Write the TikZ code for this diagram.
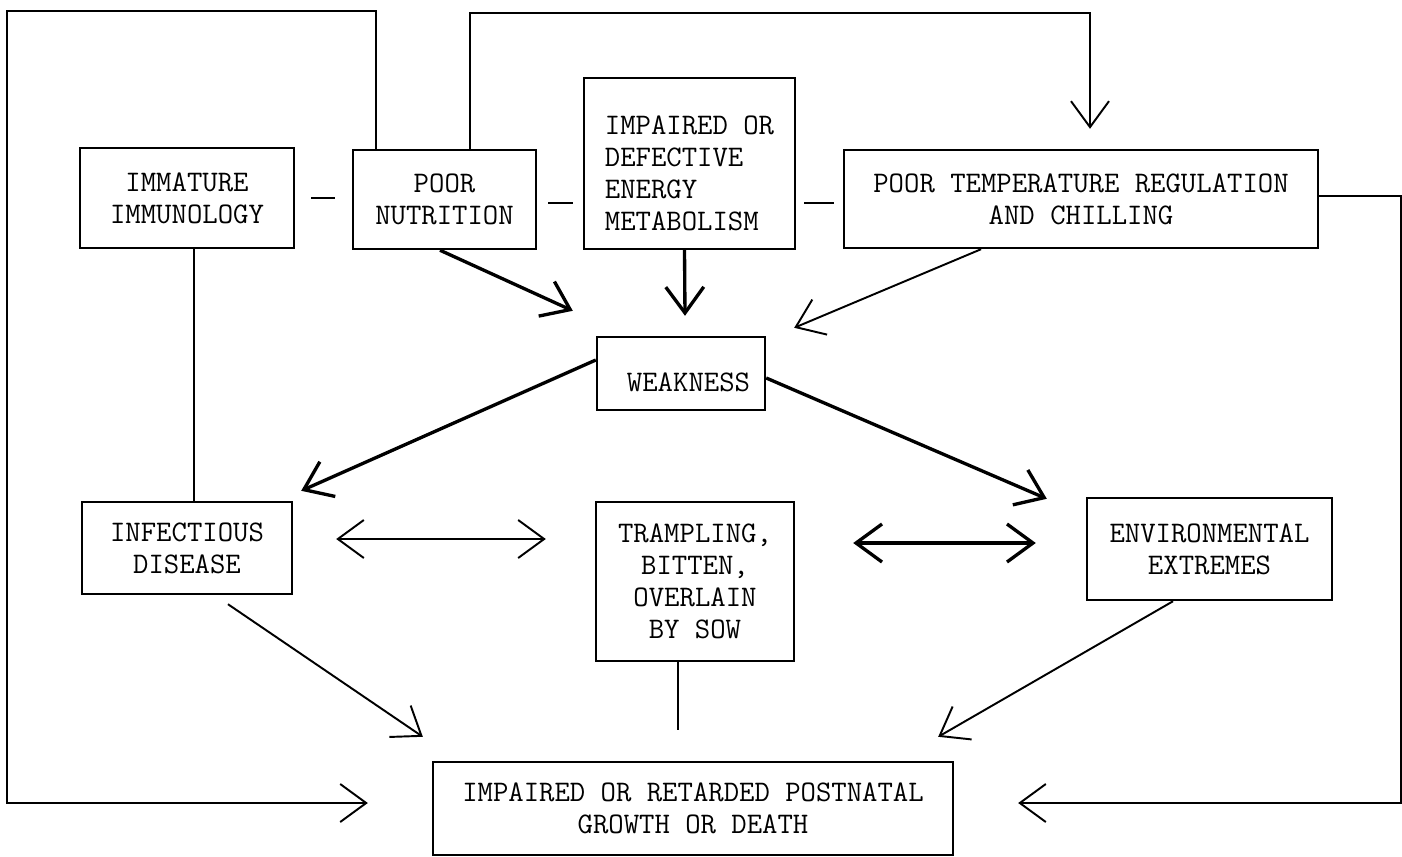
\documentclass[tikz,border=0pt]{standalone}
\usetikzlibrary{arrows.meta}
\newcommand\boxfont{\fontsize{17}{18.2}\selectfont\ttfamily}
\tikzset{
	box/.style={draw,line width=1.4pt,inner sep=0pt,font=\boxfont,align=center},
	plain/.style={line width=1.1pt},
	arr/.style={line width=1.1pt,->},
	arrthick/.style={line width=1.9pt,->},
	dbl/.style={line width=1.1pt,<->},
	dblthick/.style={line width=1.9pt,<->},
	>={Straight Barb[length=0.52cm,width=0.76cm]},
	}

\begin{document}
\begin{tikzpicture}[x=0.02cm,y=-0.02cm]
\useasboundingbox (0,0) rectangle (1402,856);

\node[box,minimum width=4.28cm,minimum height=2cm] (immat) at (187,198) {IMMATURE\\IMMUNOLOGY};
\node[box,minimum width=3.66cm,minimum height=1.98cm] (nutr) at (444.5,199.5) {POOR\\NUTRITION};
\node[box,minimum width=4.22cm,minimum height=3.42cm,align=left,text height=2.7cm] (metab) at (689.5,163.5) {IMPAIRED OR\\DEFECTIVE\\ENERGY\\METABOLISM};
\node[box,minimum width=9.48cm,minimum height=1.96cm] (temp) at (1081,199) {POOR TEMPERATURE REGULATION\\AND CHILLING};
\node[box,minimum width=3.36cm,minimum height=1.46cm,text height=0.74cm] (weak) at (681,373.5) {\hspace*{0.3cm}WEAKNESS};
\node[box,minimum width=4.2cm,minimum height=1.84cm] (infect) at (187,548) {INFECTIOUS\\DISEASE};
\node[box,minimum width=3.96cm,minimum height=3.18cm] (tramp) at (695,581.5) {TRAMPLING,\\BITTEN,\\OVERLAIN\\BY SOW};
\node[box,minimum width=4.9cm,minimum height=2.04cm] (env) at (1209.5,549) {ENVIRONMENTAL\\EXTREMES};
\node[box,minimum width=10.4cm,minimum height=1.86cm] (growth) at (693,808.5) {IMPAIRED OR RETARDED POSTNATAL\\GROWTH OR DEATH};

\coordinate (tipL) at ([xshift=-1.28cm,yshift=0.11cm]growth.west);
\coordinate (tipR) at ([xshift=1.28cm,yshift=0.11cm]growth.east);
\coordinate (tipT) at ([xshift=0.18cm,yshift=0.4cm]temp.north);

% dashes along the top row
\draw[plain,shorten <=0.32cm,shorten >=0.34cm] (immat.east) -- (immat.east -| nutr.west);
\draw[plain,shorten <=0.22cm,shorten >=0.2cm] ([yshift=-0.07cm]nutr.east) -- ([yshift=-0.07cm]nutr.east -| metab.west);
\draw[plain,shorten <=0.16cm,shorten >=0.18cm] ([yshift=-0.08cm]temp.west -| metab.east) -- ([yshift=-0.08cm]temp.west);

% loops round the outside
\draw[arr] ([xshift=0.48cm]nutr.north west) -- ++(0,-138) -- ++(-369,0) |- (tipL);
\draw[arr] ([xshift=-1.34cm]nutr.north east) -- ++(0,-136) -| (tipT);
\draw[arr] ([yshift=0.06cm]temp.east) -- ++(82,0) |- (tipR);

\draw[plain] ([xshift=0.14cm]immat.south) -- ([xshift=0.14cm]infect.north);

\draw[arrthick] ([xshift=-0.09cm]nutr.south) -- ([xshift=-0.46cm,yshift=0.5cm]weak.north west);
\draw[arrthick] ([xshift=-0.1cm]metab.south) -- ([xshift=0.08cm,yshift=0.4cm]weak.north);
\draw[arr] ([xshift=-2cm]temp.south) -- ([xshift=0.56cm,yshift=0.16cm]weak.north east);

\draw[arrthick] ([yshift=0.27cm]weak.west) -- ([xshift=0.16cm,yshift=0.2cm]infect.north east);
\draw[arrthick] ([yshift=-0.09cm]weak.east) -- ([xshift=-0.78cm,yshift=-0.04cm]env.north west);

\draw[dbl,shorten <=0.86cm,shorten >=0.98cm] ([yshift=0.18cm]infect.east) -- ([yshift=0.18cm]infect.east -| tramp.west);
\draw[dblthick,shorten <=1.16cm,shorten >=1cm] ([yshift=0.12cm]env.west -| tramp.east) -- ([yshift=0.12cm]env.west);

\draw[arr] ([xshift=0.82cm,yshift=-0.18cm]infect.south) -- ([xshift=-0.18cm,yshift=0.48cm]growth.north west);
\draw[plain,shorten >=0.62cm] ([xshift=-0.34cm]tramp.south) -- ([xshift=-0.34cm]tramp.south |- growth.north);
\draw[arr] ([xshift=-0.73cm]env.south) -- ([xshift=-0.32cm,yshift=0.48cm]growth.north east);
\end{tikzpicture}
\end{document}
